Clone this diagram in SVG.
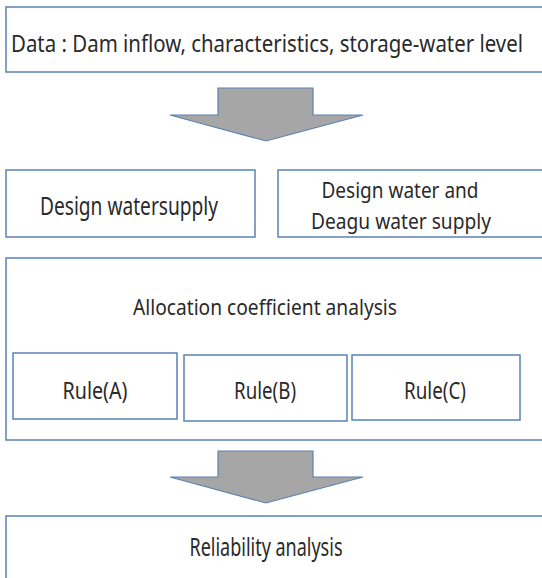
<svg xmlns="http://www.w3.org/2000/svg" width="542" height="578" viewBox="0 0 542 578">
<style>
.box{fill:#fff;stroke:#5a82b4;stroke-width:1.5}
.arr{fill:#a6a6a6;stroke:#5a82b4;stroke-width:1.2}
text{font-family:"Noto Sans","Liberation Sans",sans-serif;fill:#2a2a2a;text-anchor:middle}
</style>
<rect width="542" height="578" fill="#fff"/>
<g id="data"><rect class="box" x="6" y="7" width="545" height="65"/><text x="267" y="52" font-size="23" textLength="512" lengthAdjust="spacingAndGlyphs">Data : Dam inflow, characteristics, storage-water level</text></g>
<g id="connectors">
<path class="arr" d="M218,88 H313 V115 H363 L266,141 L170,115 H218 Z"/>
<path class="arr" d="M218,451 H313 V477 H363 L266,503 L170,477 H218 Z"/>
</g>
<g id="design1"><rect class="box" x="6" y="170" width="249" height="67"/><text x="129" y="215" font-size="25" textLength="178" lengthAdjust="spacingAndGlyphs">Design watersupply</text></g>
<g id="design2"><rect class="box" x="278" y="170" width="273" height="67"/><text x="400" y="198" font-size="22" textLength="157" lengthAdjust="spacingAndGlyphs">Design water and</text><text x="401" y="229" font-size="22" textLength="180" lengthAdjust="spacingAndGlyphs">Deagu water supply</text></g>
<g id="allocation"><rect class="box" x="6" y="258" width="545" height="182"/><text x="265" y="315" font-size="21" textLength="264" lengthAdjust="spacingAndGlyphs">Allocation coefficient analysis</text></g>
<g id="ruleA"><rect class="box" x="13" y="353" width="164" height="66"/><text x="95" y="399" font-size="23" textLength="65" lengthAdjust="spacingAndGlyphs">Rule(A)</text></g>
<g id="ruleB"><rect class="box" x="184" y="355" width="163" height="66"/><text x="265" y="399" font-size="23" textLength="62" lengthAdjust="spacingAndGlyphs">Rule(B)</text></g>
<g id="ruleC"><rect class="box" x="352" y="355" width="168" height="65"/><text x="435" y="399" font-size="23" textLength="62" lengthAdjust="spacingAndGlyphs">Rule(C)</text></g>
<g id="reliability"><rect class="box" x="6" y="516" width="545" height="80"/><text x="266" y="556" font-size="25" textLength="153" lengthAdjust="spacingAndGlyphs">Reliability analysis</text></g>
</svg>
